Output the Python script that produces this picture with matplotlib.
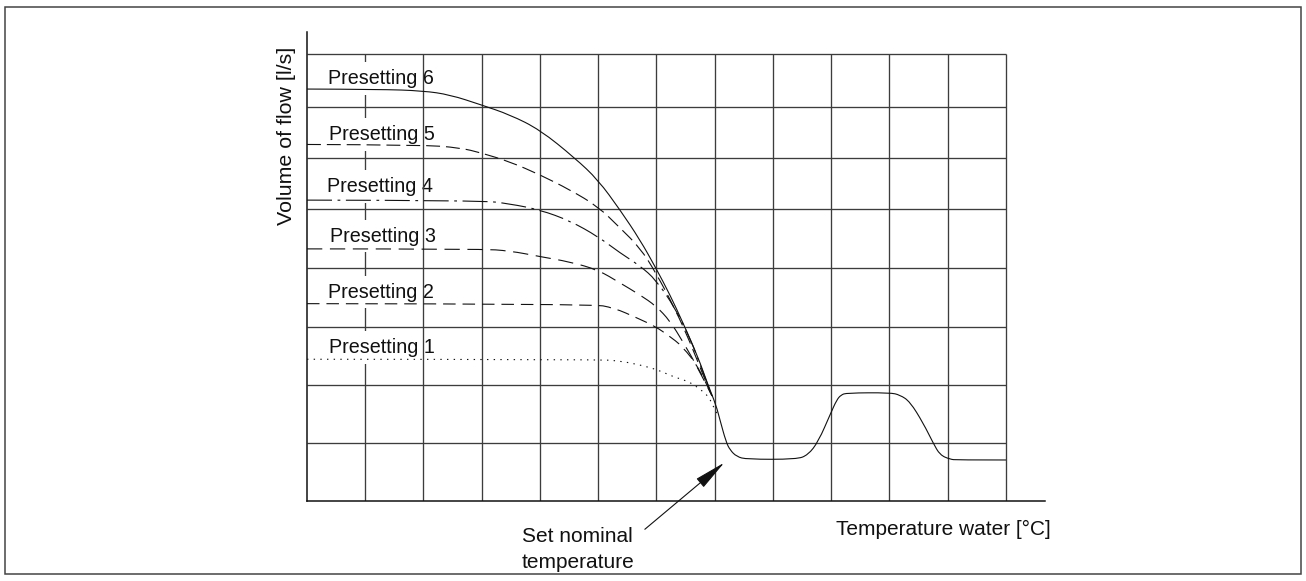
import numpy as np
import matplotlib
matplotlib.use("Agg")
import matplotlib.pyplot as plt
from matplotlib.patches import Rectangle, FancyArrowPatch, PathPatch
from matplotlib.path import Path

plt.rcParams['font.family'] = ['Liberation Sans', 'DejaVu Sans']
plt.rcParams['lines.scale_dashes'] = False

# ---------------- data (grid units) ----------------
x_grid = [1, 2, 3, 4, 5, 6, 7, 8, 9, 10, 11, 12]
y_grid = [0.985, 1.985, 2.985, 3.986, 4.998, 5.878, 6.753, 7.65]

# Presetting 6 (solid) continues into the controlled part of the curve
p6_x = [0, 1.253, 1.991, 2.455, 2.987, 3.485, 4.0, 4.601, 4.996, 5.373, 5.717,
        5.991, 6.232, 6.455, 6.712, 6.884, 7.021, 7.090, 7.193, 7.262, 7.377,
        7.549, 8.407, 8.601, 8.778, 8.991, 9.094, 9.167, 9.265, 10.009, 10.180,
        10.352, 10.580, 10.752, 10.867, 11.039, 11.159, 12.0]
p6_y = [7.057, 7.053, 7.027, 6.959, 6.787, 6.616, 6.358, 5.873, 5.501, 4.987,
        4.472, 3.986, 3.528, 3.048, 2.465, 1.985, 1.642, 1.384, 1.012, 0.870,
        0.755, 0.710, 0.710, 0.784, 1.012, 1.499, 1.727, 1.813, 1.847, 1.852,
        1.813, 1.698, 1.328, 0.985, 0.784, 0.710, 0.698, 0.698]

p5_x = [0, 1.991, 2.627, 2.987, 3.485, 4.0, 4.515, 4.996, 5.373, 5.717, 5.991,
        6.318, 6.575, 6.798, 6.953]
p5_y = [6.107, 6.101, 6.050, 5.964, 5.810, 5.587, 5.329, 5.043, 4.678, 4.335,
        3.906, 3.288, 2.722, 2.156, 1.796]

p4_x = [0, 2.987, 3.485, 4.0, 4.515, 4.996, 5.373, 5.717, 5.991, 6.318, 6.575,
        6.798, 6.953]
p4_y = [5.153, 5.149, 5.089, 4.986, 4.798, 4.528, 4.249, 4.026, 3.786, 3.305,
        2.791, 2.207, 1.796]

p3_x = [0, 2.987, 3.485, 4.0, 4.515, 4.996, 5.373, 5.717, 5.991, 6.232, 6.455,
        6.712, 6.953]
p3_y = [4.317, 4.317, 4.283, 4.185, 4.094, 3.957, 3.734, 3.528, 3.339, 3.082,
        2.722, 2.276, 1.796]

p2_x = [0, 4.893, 5.270, 5.665, 5.986, 6.215, 6.438, 6.747, 6.953]
p2_y = [3.378, 3.374, 3.306, 3.134, 2.984, 2.825, 2.654, 2.259, 1.796]

p1_x = [0, 4.979, 5.373, 5.717, 6.026, 6.283, 6.558, 6.747, 6.901, 6.987, 7.056]
p1_y = [2.425, 2.422, 2.396, 2.328, 2.242, 2.127, 2.041, 1.916, 1.779, 1.587, 1.467]

labels = ["Presetting 6", "Presetting 5", "Presetting 4",
          "Presetting 3", "Presetting 2", "Presetting 1"]
label_x = [0.357, 0.384, 0.339, 0.395, 0.366, 0.384]
label_y = [7.142, 6.187, 5.290, 4.443, 3.482, 2.528]

x_title = "Temperature water [°C]"
y_title = "Volume of flow [l/s]"
annot_lines = ["Set nominal", "temperature"]

# ---------------- helpers ----------------
def smooth_path(xs, ys):
    """Quadratic B-spline style path through the read points (rendering only)."""
    pts = np.column_stack([xs, ys]).astype(float)
    verts = [pts[0]]
    codes = [Path.MOVETO]
    n = len(pts)
    if n == 2:
        verts.append(pts[1]); codes.append(Path.LINETO)
        return Path(verts, codes)
    for i in range(1, n - 1):
        end = pts[-1] if i == n - 2 else (pts[i] + pts[i + 1]) / 2.0
        verts += [pts[i], end]
        codes += [Path.CURVE3, Path.CURVE3]
    return Path(verts, codes)


# ---------------- figure ----------------
W, H = 1306, 581
fig = plt.figure(figsize=(W / 100, H / 100), dpi=100)
ax = fig.add_axes([307 / W, (H - 500.7) / H, 738 / W, 468.4 / H])
ax.set_xlim(0, 12.67)
ax.set_ylim(0, 8.03)
ax.set_xticks([])
ax.set_yticks([])
for s in ['top', 'right']:
    ax.spines[s].set_visible(False)
for s in ['left', 'bottom']:
    ax.spines[s].set_color('#111111')
    ax.spines[s].set_linewidth(1.1)
    ax.spines[s].set_zorder(5)

gcol = '#3c3c3c'
glw = 0.95
top = y_grid[-1]
for i, gx in enumerate(x_grid):
    ax.plot([gx, gx], [0, top], color=gcol, lw=glw, zorder=1 if i == 0 else 2.5,
            solid_capstyle='butt')
for gy in y_grid:
    ax.plot([0, x_grid[-1]], [gy, gy], color=gcol, lw=glw, zorder=2.5,
            solid_capstyle='butt')

lc = '#111111'
lw = 0.8
series = [
    (p6_x, p6_y, '-'),
    (p5_x, p5_y, (0, (10, 4.3))),
    (p4_x, p4_y, (0, (18, 4, 2, 4))),
    (p3_x, p3_y, (0, (11, 5.5))),
    (p2_x, p2_y, (0, (9, 5))),
    (p1_x, p1_y, (0, (1, 3.8))),
]
for xs, ys, ls in series:
    ax.add_patch(PathPatch(smooth_path(xs, ys), fill=False, ec=lc, lw=lw,
                           linestyle=ls, zorder=4, capstyle='butt'))

for t, lx, ly in zip(labels, label_x, label_y):
    ax.text(lx, ly, t, fontsize=14.2, color='#111111', ha='left', va='baseline',
            zorder=2, bbox=dict(boxstyle='square,pad=0.35', fc='white', ec='none'))

ax.text(-0.35, 6.256, y_title, rotation=90, fontsize=15.4, color='#111111',
        ha='center', va='center', clip_on=False)
ax.text(9.08, -0.588, x_title, fontsize=15, color='#111111',
        ha='left', va='baseline', clip_on=False)
for line, by in zip(annot_lines, [-0.703, -1.159]):
    ax.text(3.69, by, line, fontsize=15, color='#111111',
            ha='left', va='baseline', clip_on=False)

arrow = FancyArrowPatch((5.80, -0.49), (7.164, 0.652),
                        arrowstyle='-|>,head_length=2.0,head_width=0.35',
                        mutation_scale=10, color='#111111', lw=0.8,
                        shrinkA=0, shrinkB=0, clip_on=False, zorder=6)
ax.add_patch(arrow)

fig.add_artist(Rectangle((5 / W, 7 / H), 1296 / W, 567 / H, transform=fig.transFigure,
                         fill=False, ec='#444444', lw=1.1))

fig.savefig("out.png", dpi=100)
